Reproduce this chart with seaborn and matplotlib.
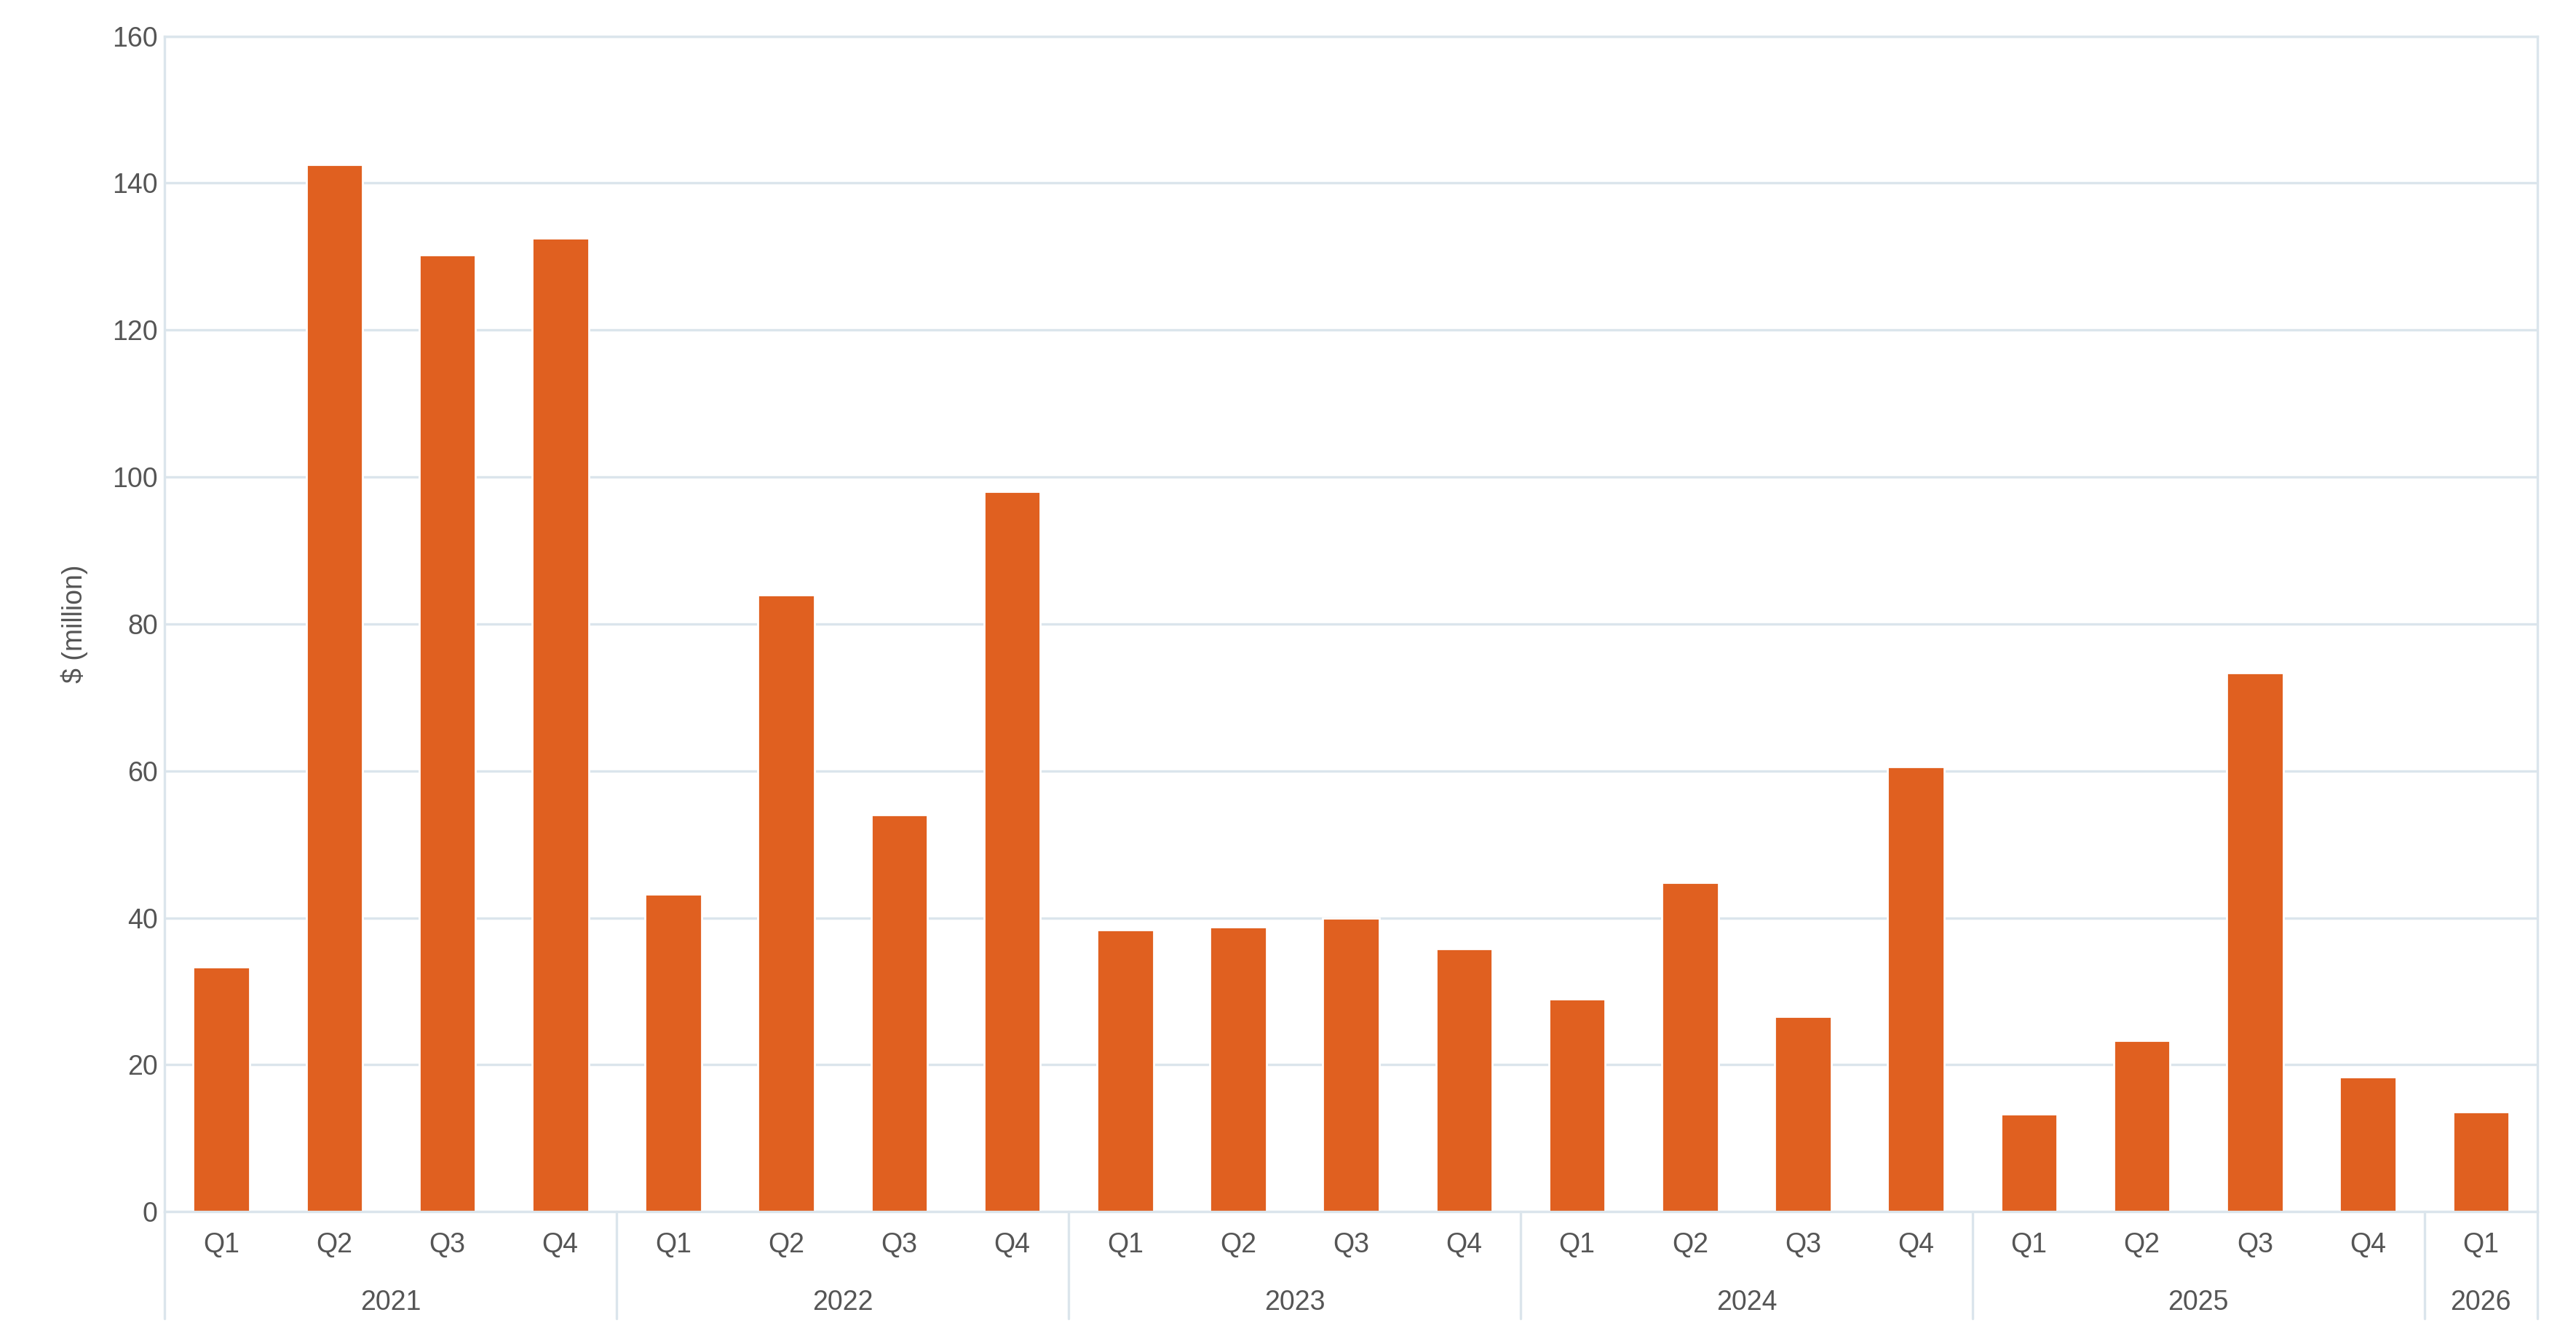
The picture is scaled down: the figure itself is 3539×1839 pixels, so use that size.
import matplotlib
matplotlib.use("Agg")
import matplotlib.pyplot as plt
import seaborn as sns
import pandas as pd

years = ["2021", "2022", "2023", "2024", "2025", "2026"]
quarters_per_year = [4, 4, 4, 4, 4, 1]
quarter_labels = ["Q1", "Q2", "Q3", "Q4"]
values = [33.3, 142.5, 130.2, 132.5,
          43.2, 84.0, 54.0, 98.0,
          38.4, 38.8, 40.0, 35.8,
          29.0, 44.8, 26.6, 60.6,
          13.3, 23.3, 73.4, 18.4,
          13.6]

keys, qlabs = [], []
for y, n in zip(years, quarters_per_year):
    for q in quarter_labels[:n]:
        keys.append(f"{y} {q}"); qlabs.append(q)
df = pd.DataFrame({"key": keys, "value": values})

sns.set_theme(style="white")
plt.rcParams['font.family'] = ['Liberation Sans', 'DejaVu Sans']
text_c = "#555555"
grid_c = "#dbe5ec"

fig = plt.figure(figsize=(3539/200, 1839/200), dpi=200)
ax = fig.add_axes([0.064, 0.095, 0.921, 0.878])
sns.barplot(data=df, x="key", y="value", order=keys, color="#E06020",
            saturation=1, width=0.5, ax=ax)
ax.set_xlim(-0.5, len(keys) - 0.5)
ax.set_ylim(0, 160)
ax.set_yticks(range(0, 161, 20))
ax.yaxis.grid(True, color=grid_c, linewidth=1.2)
ax.set_axisbelow(True)
ax.set_xticks(range(len(keys)))
ax.set_xticklabels(qlabs, color=text_c, fontsize=13.5)
ax.tick_params(axis="x", length=0, pad=10)
ax.tick_params(axis="y", labelsize=13.5, colors=text_c, length=0)
ax.set_xlabel("")
ax.set_ylabel("$ (million)", color=text_c, fontsize=13.5, labelpad=12)
for s in ax.spines.values():
    s.set_color(grid_c); s.set_linewidth(1.2)

trans = ax.get_xaxis_transform()
start = 0
bounds = [-0.5]
for y, n in zip(years, quarters_per_year):
    center = start + (n - 1) / 2
    ax.text(center, -0.077, y, transform=trans, ha="center", va="center",
            color=text_c, fontsize=13.5)
    start += n
    bounds.append(start - 0.5)
for b in bounds:
    ax.plot([b, b], [0, -0.091], transform=trans, color=grid_c,
            linewidth=1.2, clip_on=False)

fig.savefig("out.png", dpi=200)
